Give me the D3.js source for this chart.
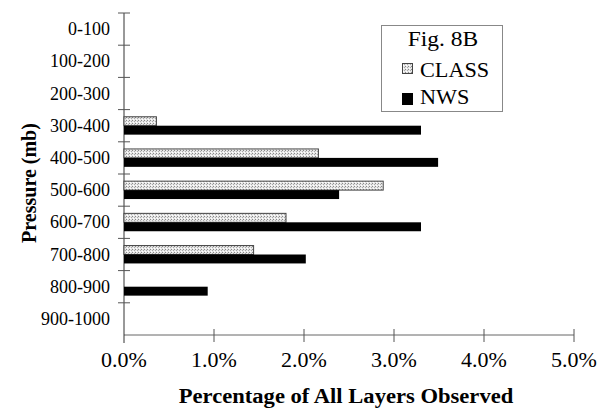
<!DOCTYPE html>
<html><head><meta charset="utf-8">
<script src="https://cdn.jsdelivr.net/npm/d3@7/dist/d3.min.js"></script>
<style>
html,body{margin:0;padding:0;background:#fff;}
svg{display:block;}
</style></head>
<body>
<svg id="chart" width="605" height="413"></svg>
<script>
const categories = ["0-100","100-200","200-300","300-400","400-500","500-600","600-700","700-800","800-900","900-1000"];
const classValues = [0, 0, 0, 0.36, 2.16, 2.88, 1.80, 1.44, 0, 0];
const nwsValues   = [0, 0, 0, 3.30, 3.49, 2.39, 3.30, 2.02, 0.93, 0];
const xTicks = [0, 1, 2, 3, 4, 5];
const seriesNames = ["CLASS", "NWS"];
const FONT = "Liberation Serif";

const svg = d3.select("#chart");
svg.append("rect").attr("width",605).attr("height",413).attr("fill","#fff");

const defs = svg.append("defs");
const pat = defs.append("pattern").attr("id","stipple").attr("patternUnits","userSpaceOnUse")
  .attr("width",3).attr("height",3);
pat.append("rect").attr("width",3).attr("height",3).attr("fill","#e6e6e6");
pat.append("rect").attr("x",0).attr("y",0).attr("width",1).attr("height",1).attr("fill","#888");
pat.append("rect").attr("x",2).attr("y",1).attr("width",1).attr("height",1).attr("fill","#aaa");
pat.append("rect").attr("x",1).attr("y",2).attr("width",1).attr("height",1).attr("fill","#fff");

const x = d3.scaleLinear().domain([0,5]).range([124,574]);
const y = d3.scaleBand().domain(categories).range([13,335]).padding(0);
const ySub = d3.scaleBand().domain(seriesNames).range([0,y.bandwidth()]).paddingInner(0).paddingOuter(0.8);

const data = categories.map((c,i)=>({cat:c, CLASS:classValues[i], NWS:nwsValues[i]}));

function txt(sel){ return sel.attr("font-family",FONT).attr("fill","#000"); }

// x axis line
svg.append("line").attr("x1",x(0)).attr("x2",x(5)).attr("y1",335).attr("y2",335)
  .attr("stroke","#666").attr("stroke-width",1);
svg.selectAll(".xt").data(xTicks.slice(1)).enter().append("line")
  .attr("x1",d=>x(d)).attr("x2",d=>x(d)).attr("y1",329).attr("y2",342)
  .attr("stroke","#555").attr("stroke-width",1);
txt(svg.selectAll(".xl").data(xTicks).enter().append("text"))
  .attr("transform",d=>`translate(${x(d)},367) scale(1.1,1)`).attr("text-anchor","middle")
  .attr("font-size",20)
  .text(d=>d3.format(".1f")(d)+"%");

// y axis
svg.append("line").attr("x1",124).attr("x2",124).attr("y1",13).attr("y2",343)
  .attr("stroke","#333").attr("stroke-width",1);
const boundaries = categories.map(c=>y(c));
svg.selectAll(".yt").data(boundaries).enter().append("line")
  .attr("x1",118).attr("x2",130).attr("y1",d=>d).attr("y2",d=>d)
  .attr("stroke","#555").attr("stroke-width",1);
txt(svg.selectAll(".yl").data(categories).enter().append("text"))
  .attr("x",110).attr("y",d=>y(d)+y.bandwidth()/2+6).attr("text-anchor","end")
  .attr("font-size",18).text(d=>d);

// bars
const g = svg.append("g");
g.selectAll(".cb").data(data.filter(d=>d.CLASS>0)).enter().append("rect")
  .attr("x",x(0)).attr("y",d=>y(d.cat)+ySub("CLASS"))
  .attr("width",d=>x(d.CLASS)-x(0)).attr("height",ySub.bandwidth())
  .attr("fill","url(#stipple)").attr("stroke","#444").attr("stroke-width",1);
g.selectAll(".nb").data(data.filter(d=>d.NWS>0)).enter().append("rect")
  .attr("x",x(0)).attr("y",d=>y(d.cat)+ySub("NWS"))
  .attr("width",d=>x(d.NWS)-x(0)).attr("height",ySub.bandwidth())
  .attr("fill","#000");

// axis titles
txt(svg.append("text")).attr("transform","translate(346,403) scale(1.13,1)").attr("text-anchor","middle")
  .attr("font-size",20).attr("font-weight","bold")
  .text("Percentage of All Layers Observed");
txt(svg.append("text")).attr("transform","translate(36,183) rotate(-90)").attr("text-anchor","middle")
  .attr("font-size",20).attr("font-weight","bold").text("Pressure (mb)");

// legend
const lg = svg.append("g");
lg.append("rect").attr("x",381.5).attr("y",25.5).attr("width",121).attr("height",86)
  .attr("fill","#fff").attr("stroke","#888").attr("stroke-width",1);
txt(lg.append("text")).attr("transform","translate(443,46) scale(1.12,1)").attr("text-anchor","middle")
  .attr("font-size",21).text("Fig. 8B");
lg.append("rect").attr("x",402.5).attr("y",63.5).attr("width",10).attr("height",10)
  .attr("fill","url(#stipple)").attr("stroke","#444");
txt(lg.append("text")).attr("transform","translate(420,77) scale(1.06,1)")
  .attr("font-size",21).text(seriesNames[0]);
lg.append("rect").attr("x",402).attr("y",93).attr("width",11).attr("height",12).attr("fill","#000");
txt(lg.append("text")).attr("transform","translate(420,104) scale(1.06,1)")
  .attr("font-size",21).text(seriesNames[1]);
</script>
</body></html>
